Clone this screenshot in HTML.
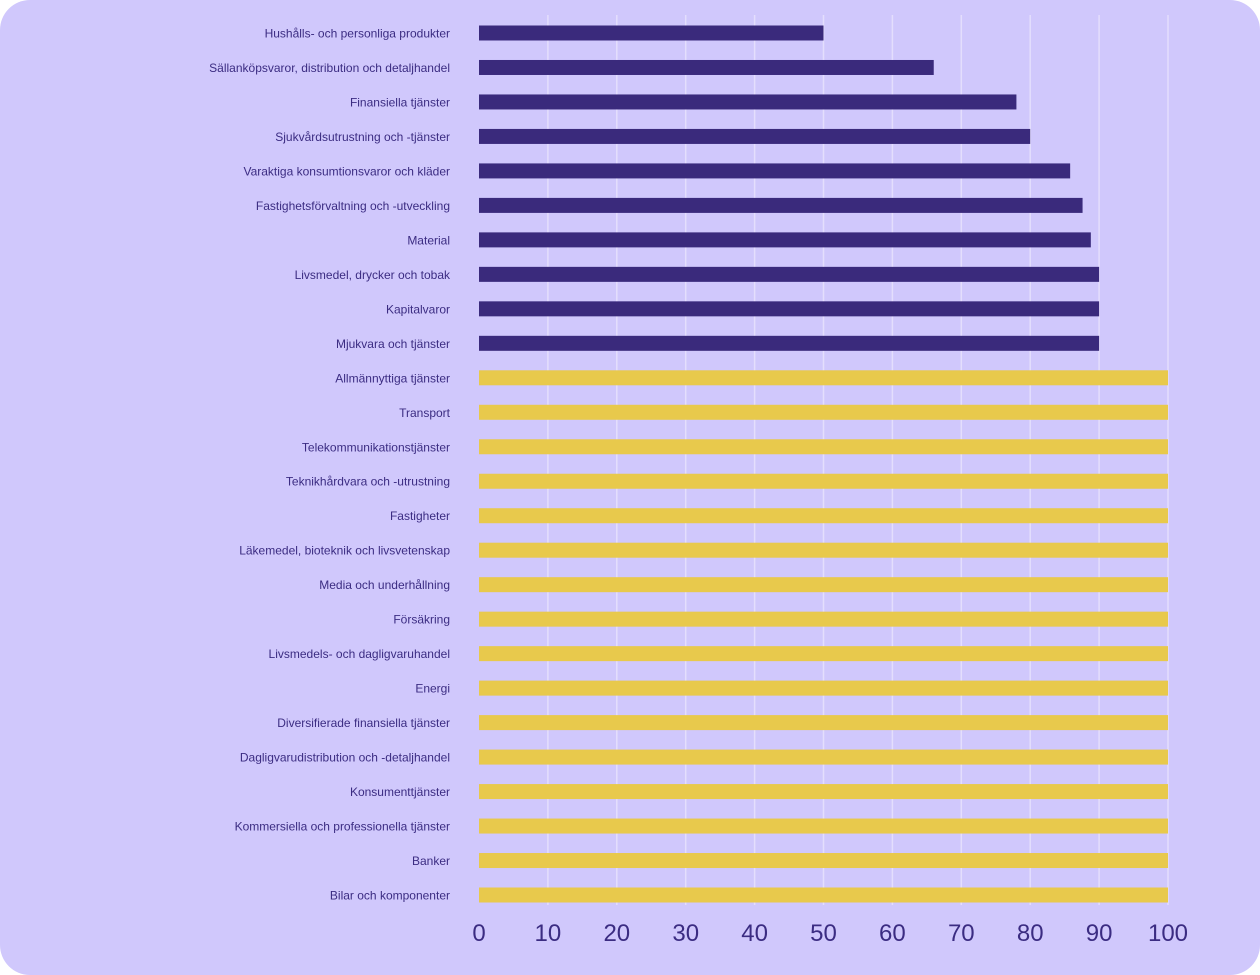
<!DOCTYPE html><html><head><meta charset="utf-8"><style>
html,body{margin:0;padding:0;background:#fff;}
svg{display:block;}
</style></head><body>
<svg width="1260" height="975" xmlns="http://www.w3.org/2000/svg" font-family="Liberation Sans, sans-serif">
<rect x="0" y="0" width="1260" height="975" rx="30" fill="#d0c8fc"/>
<g stroke="#e4defd" stroke-width="1.5">
<line x1="547.9" y1="15" x2="547.9" y2="905"/><line x1="616.8" y1="15" x2="616.8" y2="905"/><line x1="685.7" y1="15" x2="685.7" y2="905"/><line x1="754.6" y1="15" x2="754.6" y2="905"/><line x1="823.5" y1="15" x2="823.5" y2="905"/><line x1="892.4" y1="15" x2="892.4" y2="905"/><line x1="961.3" y1="15" x2="961.3" y2="905"/><line x1="1030.2" y1="15" x2="1030.2" y2="905"/><line x1="1099.1" y1="15" x2="1099.1" y2="905"/><line x1="1168" y1="15" x2="1168" y2="905"/>
</g>
<g id="bars"></g>
<g id="labels" font-size="12" fill="#3b2c82" text-anchor="end"></g>
<g font-size="24" fill="#3b2c82" text-anchor="middle">
<text x="479" y="941">0</text><text x="547.9" y="941">10</text><text x="616.8" y="941">20</text><text x="685.7" y="941">30</text><text x="754.6" y="941">40</text><text x="823.5" y="941">50</text><text x="892.4" y="941">60</text><text x="961.3" y="941">70</text><text x="1030.2" y="941">80</text><text x="1099.1" y="941">90</text><text x="1168" y="941">100</text>
</g>
<script>
const d=[["Hushålls- och personliga produkter",50],["Sällanköpsvaror, distribution och detaljhandel",66],["Finansiella tjänster",78],["Sjukvårdsutrustning och -tjänster",80],["Varaktiga konsumtionsvaror och kläder",85.8],["Fastighetsförvaltning och -utveckling",87.6],["Material",88.8],["Livsmedel, drycker och tobak",90],["Kapitalvaror",90],["Mjukvara och tjänster",90],["Allmännyttiga tjänster",100],["Transport",100],["Telekommunikationstjänster",100],["Teknikhårdvara och -utrustning",100],["Fastigheter",100],["Läkemedel, bioteknik och livsvetenskap",100],["Media och underhållning",100],["Försäkring",100],["Livsmedels- och dagligvaruhandel",100],["Energi",100],["Diversifierade finansiella tjänster",100],["Dagligvarudistribution och -detaljhandel",100],["Konsumenttjänster",100],["Kommersiella och professionella tjänster",100],["Banker",100],["Bilar och komponenter",100]];
const ns="http://www.w3.org/2000/svg";const b=document.getElementById("bars"),l=document.getElementById("labels");
d.forEach((r,i)=>{const c=33+i*34.48;const re=document.createElementNS(ns,"rect");re.setAttribute("x",479);re.setAttribute("y",c-7.5);re.setAttribute("width",r[1]*6.89);re.setAttribute("height",15);re.setAttribute("fill",r[1]<100?"#3a2a7c":"#e8c94c");b.appendChild(re);
const t=document.createElementNS(ns,"text");t.setAttribute("x",450);t.setAttribute("y",c+4.5);t.textContent=r[0];l.appendChild(t);});
</script>
</svg>
</body></html>
